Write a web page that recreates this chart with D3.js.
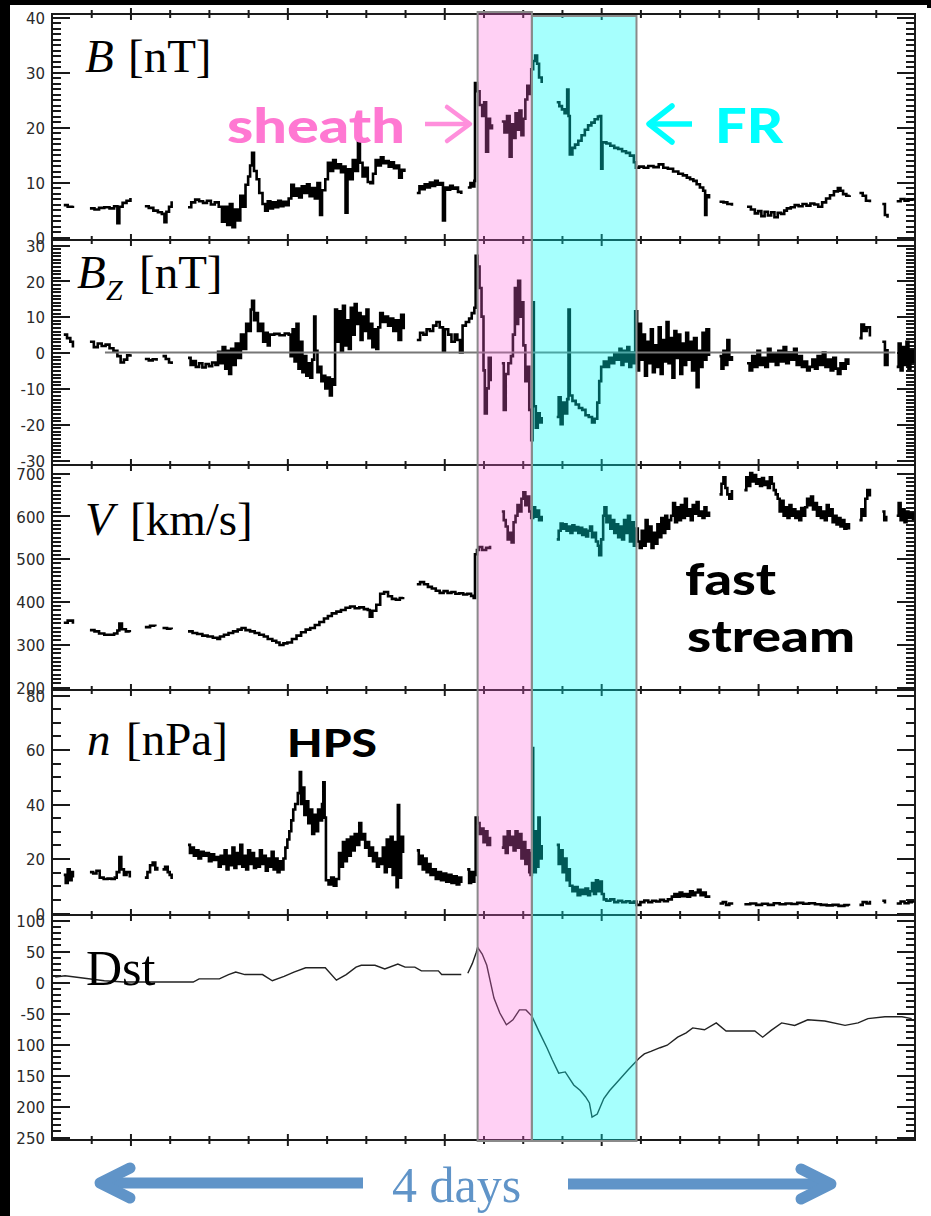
<!DOCTYPE html>
<html>
<head>
<meta charset="utf-8">
<script src="https://cdn.jsdelivr.net/npm/d3@7"></script>
<style>
  body { margin: 0; background: #fff; }
  svg { display: block; }
</style>
</head>
<body>
<script>
// hours from the left edge of the plot
const xMajorHours = [12, 36, 60, 84, 108];
const xMinorHours = [6, 18, 24, 30, 42, 48, 54, 66, 72, 78, 90, 96, 102, 114, 120, 126];

const sheath = [65.1, 73.4];
const fluxRope = [73.4, 89.4];

// [hour, value], null = data gap
const bField = [
  [1.8,5.8],[2.4,5.5],[3.2,5.7],null,
  [5.8,5.2],[6.5,5.0],[7.2,5.3],[8.0,5.4],[8.8,5.2],[9.5,5.6],[10.0,2.5],[10.3,5.5],[10.8,6.2],[11.4,6.6],[12.0,7.1],null,
  [14.2,5.6],[14.8,5.3],[15.5,4.8],[16.2,4.5],[16.8,4.2],[17.2,2.7],[17.5,4.6],[17.9,5.5],[18.3,6.5],null,
  [20.8,5.4],[21.3,6.3],[21.9,6.8],[22.5,6.5],[23.1,6.2],[23.7,6.6],[24.3,5.9],[24.9,6.3],[25.5,5.5],
  [26.0,2.8],[26.4,5.5],[26.8,2.2],[27.2,6.0],[27.6,1.8],[28.0,5.0],[28.4,3.0],
  [28.8,7.5],[29.2,5.5],[29.6,9.5],[30.0,11.0],[30.3,13.0],[30.6,15.3],[30.9,12.0],
  [31.3,10.5],[31.7,8.0],[32.2,6.0],[32.6,4.8],
  [33.0,6.5],[33.4,5.2],[33.8,6.3],[34.2,5.4],[34.6,6.6],[35.0,5.6],[35.4,6.4],[35.8,5.8],[36.2,7.0],
  [36.6,9.5],[37.0,7.5],[37.4,8.8],[37.8,7.2],[38.2,9.2],[38.6,8.0],[39.0,9.6],[39.4,7.4],[39.8,8.9],[40.2,7.0],[40.6,9.8],[41.0,4.0],[41.3,8.5],
  [41.8,10.5],[42.2,13.5],[42.6,12.0],[43.0,14.0],[43.4,12.5],[43.8,13.2],[44.2,11.8],[44.6,12.8],[44.9,4.4],[45.2,12.3],[45.6,10.5],
  [46.0,14.0],[46.4,12.0],[46.8,17.2],[47.1,13.5],[47.5,11.0],[47.9,12.6],[48.3,10.0],[48.7,9.8],[49.1,11.5],[49.5,14.0],[49.9,13.0],
  [50.3,14.5],[50.7,13.4],[51.1,13.8],[51.5,12.8],[51.9,13.6],[52.3,12.5],[52.7,13.0],[53.1,10.8],[53.5,12.2],[53.9,11.8],null,
  [55.8,8.0],[56.2,9.2],[56.6,8.7],[57.0,9.6],[57.4,9.0],[57.8,9.9],[58.2,9.3],[58.6,10.2],[59.0,9.5],[59.4,9.8],[59.8,3.0],[60.1,9.0],
  [60.5,8.6],[60.9,9.3],[61.3,8.8],[61.7,9.0],[62.1,8.2],[62.6,7.8],null,
  [63.6,9.0],[64.0,9.8],[64.4,9.2],[64.6,10.2],[64.7,28.0],
  [65.0,26.5],[65.4,24.0],[65.8,22.0],[66.1,24.5],[66.4,15.5],[66.7,21.5],[67.0,19.8],[67.3,20.5],null,
  [68.8,21.0],[69.2,19.0],[69.6,22.0],[70.0,14.6],[70.3,20.5],[70.6,18.0],[70.9,22.5],[71.2,19.5],[71.5,23.0],[71.8,18.5],[72.1,21.5],
  [72.4,25.0],[72.7,27.5],[73.0,26.0],[73.3,30.5],[73.6,32.0],[73.9,33.0],[74.2,31.5],[74.5,29.0],[74.9,28.0],null,
  [77.2,24.5],[77.6,23.8],[78.0,23.2],[78.4,22.5],[78.8,26.8],[79.0,22.0],[79.2,15.0],
  [79.6,16.2],[80.0,16.8],[80.5,17.5],[81.0,18.5],[81.5,19.5],[82.0,20.3],[82.5,20.8],[83.0,21.4],[83.5,21.9],[83.8,22.0],
  [84.0,12.4],[84.2,17.2],[84.8,17.0],[85.4,16.6],[86.0,16.2],[86.6,16.0],[87.2,15.6],[87.8,15.3],[88.4,14.8],[89.0,13.6],[89.3,12.6],
  [89.8,12.8],[90.5,12.6],[91.2,12.9],[92.0,12.7],[92.8,13.2],[93.5,12.6],[94.2,12.4],[95.0,11.9],[95.8,11.5],[96.5,11.2],[97.1,10.8],
  [97.6,10.5],[98.1,10.2],[98.6,9.6],[99.1,9.0],[99.6,8.4],[99.9,4.0],[100.1,7.6],[100.5,7.0],null,
  [102.1,6.4],[102.7,6.3],[103.3,6.0],[104.0,5.7],null,
  [106.3,5.5],[106.9,5.0],[107.5,4.3],[108.0,4.7],[108.5,3.8],[109.0,4.6],[109.5,3.9],[110.0,4.5],[110.5,3.6],[111.0,4.4],[111.5,4.2],[112.0,4.8],[112.4,5.2],
  [113.0,5.4],[113.6,5.8],[114.2,5.6],[114.8,6.0],[115.4,5.7],[116.0,6.1],[116.6,5.9],[117.2,5.5],[117.8,6.3],
  [118.4,7.0],[119.0,7.6],[119.6,8.3],[120.2,8.9],[120.6,8.4],[121.0,7.8],[121.5,7.5],[122.0,7.6],null,
  [123.5,8.0],[124.0,7.5],[124.5,6.6],[125.1,6.3],null,
  [127.0,6.0],[127.4,4.0],[127.8,3.5],null,
  [129.2,6.5],[129.8,6.9],[130.4,6.6],[131.0,6.8],[131.7,6.6]
];

const bzField = [
  [1.8,5.0],[2.3,4.0],[2.8,3.0],[3.2,1.4],null,
  [5.8,3.0],[6.4,1.5],[7.0,2.5],[7.6,1.8],[8.2,2.2],[8.8,1.2],[9.4,0.5],[10.0,-1.0],[10.5,-2.8],[11.0,-2.0],[11.5,-0.8],[12.0,-0.5],null,
  [14.2,-1.8],[14.8,-2.2],[15.4,-1.9],[16.0,-2.3],null,
  [16.9,-1.0],[17.4,-1.8],[17.9,-2.8],[18.3,-3.2],null,
  [20.8,-1.5],[21.2,-3.5],[21.6,-2.4],[22.0,-4.0],[22.5,-3.0],[23.0,-4.2],[23.5,-3.2],[24.0,-3.8],[24.5,-2.8],[25.0,-3.5],
  [25.4,0.2],[25.8,-3.0],[26.1,1.5],[26.5,-4.5],[26.8,0.5],[27.1,-6.0],[27.4,1.0],[27.7,-3.5],
  [28.1,2.5],[28.5,-1.5],[28.9,5.0],[29.3,1.0],[29.7,8.0],[30.1,6.0],[30.4,12.0],[30.6,14.4],[30.9,9.0],
  [31.2,11.0],[31.5,6.0],[31.9,8.0],[32.3,3.0],[32.7,5.5],
  [33.0,2.0],[33.3,5.0],[34.0,5.2],[34.8,4.8],[35.6,5.3],[36.2,5.0],
  [36.5,-1.0],[36.8,6.5],[37.1,-2.5],[37.4,8.0],[37.7,-4.5],[38.0,3.0],[38.3,-5.5],
  [38.6,-1.0],[38.9,-6.5],[39.2,-3.0],[39.5,-7.0],[39.8,-2.0],[40.1,10.0],[40.3,0.5],[40.6,-5.5],
  [40.9,-4.0],[41.2,-8.0],[41.5,-6.5],[41.8,-10.0],[42.1,-7.0],[42.5,-12.0],[42.8,-7.5],[43.1,-9.0],
  [43.3,12.0],[43.6,3.0],[43.9,11.5],[44.2,0.5],[44.5,13.0],[44.8,2.0],[45.1,9.0],[45.4,1.0],
  [45.7,12.5],[46.0,5.0],[46.3,13.5],[46.6,8.0],[46.9,11.0],[47.2,3.5],[47.5,10.0],[47.8,6.0],[48.1,12.0],[48.4,4.0],
  [48.7,8.0],[49.0,1.5],[49.3,6.5],[49.6,1.0],[49.9,7.0],
  [50.2,11.0],[50.6,8.5],[51.0,10.0],[51.4,7.5],[51.8,9.5],[52.2,6.0],[52.6,9.0],[53.0,3.5],[53.4,10.5],[53.8,6.5],null,
  [55.8,3.5],[56.3,5.5],[56.8,5.0],[57.3,6.5],[57.8,6.0],[58.3,7.5],[58.8,8.5],[59.3,7.0],[59.8,0.5],[60.1,6.5],[60.6,5.0],[61.1,3.0],
  [61.6,5.0],[62.0,3.5],[62.4,0.0],[62.8,7.5],[63.3,8.5],[63.8,9.5],[64.2,11.0],[64.6,12.5],[64.8,27.0],
  [65.1,24.0],[65.4,18.0],[65.7,10.0],[66.0,-5.0],[66.2,-17.0],[66.5,-10.0],[66.8,-1.5],[67.1,-8.0],null,
  [68.8,-3.0],[69.1,-16.0],[69.4,-6.0],[69.8,-3.0],[70.2,-1.0],[70.5,5.0],[70.8,18.0],[71.0,8.0],[71.3,20.0],[71.6,10.0],[71.9,14.0],
  [72.1,2.0],[72.4,-8.0],[72.7,-4.0],[73.0,-16.0],[73.3,-24.5],[73.5,14.0],[73.7,-15.0],[74.0,-21.0],[74.3,-17.0],[74.6,-19.5],[74.9,-18.0],null,
  [77.2,-18.0],[77.5,-12.5],[77.8,-20.0],[78.1,-14.0],[78.4,-17.0],[78.8,-13.0],[79.0,12.0],[79.2,-12.0],
  [79.6,-13.5],[80.1,-14.5],[80.6,-15.5],[81.1,-16.0],[81.6,-17.5],[82.1,-18.0],[82.6,-19.5],[83.0,-18.5],
  [83.4,-14.0],[83.7,-8.0],[84.0,-4.0],[84.4,-2.5],[84.8,-4.0],[85.2,-1.5],[85.6,-3.0],[86.0,-0.5],[86.4,-2.0],[86.8,1.0],
  [87.1,-3.5],[87.4,0.5],[87.7,-2.5],[88.0,1.5],[88.3,-4.0],[88.6,0.0],[88.9,-3.0],[89.2,11.5],
  [89.5,-5.0],[89.8,8.0],[90.1,-2.0],[90.4,5.0],[90.7,-6.5],[91.0,3.0],[91.3,-3.0],[91.6,6.5],[91.9,-5.5],[92.2,2.0],[92.5,-4.0],
  [92.8,7.0],[93.1,-6.0],[93.4,3.5],[93.7,-2.5],[94.0,8.5],[94.3,-3.0],[94.6,4.0],[94.9,-7.0],[95.2,6.0],[95.5,-1.5],[95.8,5.0],
  [96.1,-6.0],[96.4,2.5],[96.7,-3.5],[97.0,5.5],[97.3,-2.0],[97.6,3.0],[97.9,-5.0],[98.2,4.0],[98.6,-9.7],[98.9,0.5],[99.2,-4.0],
  [99.5,5.5],[99.8,-2.0],[100.1,6.5],[100.5,-1.0],null,
  [102.1,-1.0],[102.4,-4.5],[102.7,0.5],[103.0,-3.5],[103.3,3.5],[103.6,-2.0],[104.0,-1.0],null,
  [106.3,-3.0],[106.7,-5.0],[107.1,-1.0],[107.5,-4.0],[107.9,0.5],[108.3,-3.5],[108.7,-1.5],[109.1,-4.0],[109.5,1.0],[109.9,-2.5],
  [110.3,-0.5],[110.7,-3.5],[111.1,0.5],[111.5,-2.5],[111.9,1.5],[112.3,-3.0],[112.7,0.0],[113.1,-2.0],[113.5,1.0],[113.9,-3.5],
  [114.3,-1.0],[114.7,-4.0],[115.1,-2.5],[115.5,-5.0],[115.9,-4.0],[116.3,-2.0],[116.7,-4.5],[117.1,-1.0],[117.5,-3.5],[117.9,0.0],
  [118.3,-4.0],[118.7,-2.0],[119.1,-5.0],[119.5,-1.5],[119.9,-4.5],[120.2,-6.0],[120.6,-3.0],[121.0,-4.5],[121.4,-2.0],[121.8,-3.5],null,
  [123.5,4.0],[123.8,7.8],[124.2,6.0],[124.6,7.0],[125.1,4.5],null,
  [127.0,3.0],[127.4,-3.5],[127.8,1.0],null,
  [129.2,-4.0],[129.5,2.5],[129.8,-5.0],[130.1,1.5],[130.4,-3.5],[130.7,3.0],[131.0,-4.5],[131.3,0.5],[131.7,-3.0]
];

const speed = [
  [1.8,350],[2.4,355],[3.2,348],null,
  [5.8,333],[6.5,330],[7.2,325],[8.0,322],[8.8,322],[9.5,325],[10.0,332],[10.3,348],[10.7,335],[11.3,330],[11.9,328],null,
  [14.2,340],[15.0,343],[15.8,342],null,
  [16.9,338],[17.6,336],[18.3,335],null,
  [20.8,330],[21.5,326],[22.2,324],[23.0,320],[23.8,318],[24.6,315],[25.3,312],[25.7,318],
  [26.3,322],[27.0,326],[27.7,330],[28.4,334],[29.0,338],[29.6,333],[30.3,330],
  [31.0,326],[31.7,322],[32.4,318],[33.0,312],[33.7,308],[34.3,304],[34.8,298],[35.4,302],
  [36.0,304],[36.7,312],[37.4,320],[38.1,328],[38.8,334],[39.5,338],[40.2,345],[40.9,352],[41.6,360],[42.2,366],
  [42.8,372],[43.5,376],[44.2,380],[44.9,385],[45.6,388],[46.3,384],[47.0,386],[47.7,382],[48.3,380],[48.6,364],[49.0,378],
  [49.6,392],[50.2,418],[50.8,422],[51.4,412],[52.0,406],[52.6,404],[53.2,408],[53.7,410],null,
  [55.8,440],[56.3,445],[56.9,440],[57.5,434],[58.1,430],
  [58.7,425],[59.3,420],[59.9,424],[60.5,420],[61.1,422],[61.7,418],[62.3,419],[62.9,416],[63.5,418],[64.1,413],[64.5,408],
  [64.7,510],[65.0,520],[65.3,527],[65.8,520],[66.4,525],[67.0,530],null,
  [68.8,610],[69.1,590],[69.4,575],[69.7,545],[70.0,560],[70.3,538],[70.6,585],
  [70.9,600],[71.2,625],[71.5,610],[71.8,640],[72.1,655],[72.4,625],[72.7,645],[73.0,610],[73.3,595],
  [73.6,620],[73.9,598],[74.2,612],[74.5,590],[74.9,600],null,
  [77.2,545],[77.5,565],[77.8,582],[78.1,570],[78.4,580],[78.7,565],[79.0,575],[79.3,560],[79.6,578],[79.9,566],[80.2,574],
  [80.5,560],[80.8,572],[81.1,555],[81.4,568],[81.7,552],[82.0,565],[82.3,575],[82.6,550],[82.9,560],[83.2,540],[83.5,530],
  [83.7,508],[84.0,545],[84.3,600],
  [84.5,620],[84.8,585],[85.1,600],[85.4,570],[85.7,590],[86.0,560],[86.3,580],[86.6,550],[86.9,575],[87.2,545],[87.5,590],
  [87.8,560],[88.1,600],[88.4,540],[88.7,585],[89.0,530],[89.3,570],
  [89.6,540],[89.9,525],[90.2,565],[90.5,530],[90.8,590],[91.1,540],[91.4,575],[91.7,525],[92.0,560],[92.3,535],[92.6,580],
  [92.9,550],[93.2,595],[93.5,560],[93.8,600],[94.1,570],[94.4,590],
  [94.7,600],[95.0,630],[95.3,585],[95.6,620],[95.9,590],[96.2,625],[96.5,595],[96.8,640],[97.1,600],[97.4,615],[97.7,590],
  [98.0,625],[98.3,605],[98.6,632],[98.9,600],[99.2,610],[99.5,595],[99.8,620],[100.1,600],[100.5,610],null,
  [102.1,650],[102.4,675],[102.7,690],[103.0,665],[103.3,650],[103.6,640],[104.0,660],null,
  [105.9,660],[106.2,690],[106.5,670],[106.8,700],[107.1,680],[107.4,695],[107.7,675],[108.0,685],[108.3,670],[108.6,688],
  [108.9,672],[109.2,680],[109.5,665],[109.8,690],[110.1,675],[110.4,660],[110.7,650],
  [111.0,640],[111.3,610],[111.6,635],[111.9,600],[112.2,620],[112.5,595],[112.8,625],[113.1,600],[113.4,615],[113.7,595],
  [114.0,610],[114.3,590],[114.6,618],[114.9,600],[115.2,620],
  [115.5,640],[115.8,625],[116.1,645],[116.4,615],[116.7,630],[117.0,600],[117.3,620],[117.6,595],[117.9,610],[118.2,590],
  [118.5,625],[118.8,600],[119.1,615],[119.4,585],[119.7,600],[120.0,580],[120.3,595],[120.6,575],[120.9,590],[121.2,570],
  [121.5,580],[121.9,568],null,
  [123.5,590],[123.8,615],[124.1,600],[124.4,640],[124.7,660],[125.1,645],null,
  [127.0,610],[127.3,590],[127.6,600],null,
  [129.2,600],[129.5,630],[129.8,590],[130.1,615],[130.4,585],[130.7,610],[131.0,595],[131.3,605],[131.7,590]
];

const density = [
  [1.8,14],[2.1,11],[2.4,16],[2.7,12],[3.0,15],[3.2,13],null,
  [5.8,15],[6.3,14.5],[6.8,15.5],[7.3,13],[7.9,12.5],[8.5,12.6],[9.1,12.5],[9.6,13],[9.9,15],
  [10.3,20.5],[10.6,16],[11.0,14],[11.4,15],[11.9,13],null,
  [14.2,13],[14.6,15],[15.0,17.5],[15.4,18.5],[15.8,16],[16.1,17],null,
  [16.9,16],[17.3,17],[17.7,15],[18.0,14],[18.3,12.5],null,
  [20.8,25],[21.1,22],[21.4,24],[21.7,21],[22.0,23],[22.4,20],[22.8,22.5],[23.2,21],[23.6,22],[24.0,19],[24.4,21.5],[24.8,19.5],[25.2,20.5],
  [25.5,17],[25.8,21],[26.1,18],[26.4,23],[26.7,16],[27.0,21],[27.3,17.5],[27.6,24],[27.9,16.5],[28.2,22],[28.5,18],[28.8,25],
  [29.1,17],[29.4,21],[29.7,16],[30.0,23],[30.3,18],[30.6,22],[30.9,16.5],[31.2,20],[31.5,17],[31.8,23],[32.1,18],[32.4,21],
  [32.7,15.5],[33.0,20],[33.3,17],[33.6,22.5],[33.9,16],[34.2,20],[34.5,15],[34.8,19],[35.1,16],[35.4,20],
  [35.7,24],[36.0,27],[36.3,30],[36.6,34],[36.9,38],[37.2,40],[37.6,44],[37.9,51.7],[38.1,40],[38.3,46],
  [38.6,36],[38.9,41],[39.2,33],[39.5,38],[39.8,29],[40.1,36],[40.4,30],[40.7,38],[41.0,34],[41.3,40],[41.5,48],[41.7,35],
  [41.9,12],[42.3,10.5],[42.7,13],[43.1,10],[43.5,12.5],
  [43.9,22],[44.2,17],[44.5,26],[44.8,19],[45.1,27],[45.4,21],[45.7,28],[46.0,23],[46.3,29],[46.6,25],[47.0,33],[47.3,27],
  [47.6,29],[47.9,24],[48.2,26],[48.5,21],[48.8,24],[49.1,19],[49.4,22],[49.7,17],[50.0,20],[50.3,18],
  [50.6,24],[50.9,15],[51.2,27],[51.5,17],[51.8,28],[52.1,14],[52.4,26],[52.7,9.5],[52.9,39.6],[53.1,13],[53.4,28],[53.7,22],null,
  [55.8,23],[56.1,18],[56.4,21],[56.7,16],[57.0,20],[57.3,15],[57.6,18],
  [57.9,14],[58.3,16],[58.7,12.5],[59.1,15],[59.5,12],[59.9,14.5],[60.3,11.5],[60.7,14],[61.1,11],[61.5,13.5],[61.9,10.5],
  [62.3,13],[62.6,11],null,
  [63.5,16],[63.8,11],[64.1,15],[64.4,11.5],[64.6,14],[64.8,35],
  [65.1,33],[65.4,29],[65.7,31],[66.0,26],[66.3,30],[66.6,25],[67.0,28],null,
  [68.8,24],[69.1,28],[69.4,22],[69.7,30],[70.0,25],[70.3,28],[70.6,23],
  [70.9,30],[71.2,24],[71.5,29],[71.8,20],[72.1,26],[72.4,18],[72.7,23],[73.0,15],[73.2,14],
  [73.4,22],[73.5,60.5],[73.6,22],[73.8,15],[74.0,30],[74.2,17],[74.4,35],[74.6,20],[74.9,25],null,
  [77.2,25],[77.5,18],[77.8,23],[78.1,15],[78.4,20],[78.7,12],[79.0,16],[79.2,10],
  [79.6,8],[80.0,9.5],[80.4,6.5],[80.8,8.5],[81.2,7],[81.6,9],[82.0,6.5],[82.3,8],
  [82.6,11],[82.9,7],[83.2,12],[83.5,8],[83.8,11.5],[84.1,7],[84.4,5],
  [84.8,4.5],[85.4,5],[86.0,4],[86.6,4.5],[87.2,4],[87.8,4.3],[88.4,3.8],[89.0,4.2],[89.4,3],
  [90.0,4],[90.6,4.6],[91.2,4],[91.8,4.5],[92.4,4.2],[93.0,4.8],[93.6,4.3],[94.2,5],
  [94.8,6],[95.2,7],[95.6,6],[96.0,7.5],[96.4,6.2],[96.8,7],[97.2,6],[97.6,8],[98.0,6.5],[98.4,7.5],[98.8,8.5],[99.2,6.5],
  [99.6,7.5],[100.0,6],[100.5,5.5],null,
  [102.1,3.5],[102.6,4],[103.1,3],[103.6,3.5],[104.0,3],null,
  [105.9,3.2],[106.8,3.5],[107.7,3],[108.6,3.4],[109.5,3],[110.4,3.6],[111.3,3.2],[112.2,3.5],[113.1,3.3],[114.0,3.7],
  [114.9,3.4],[115.8,3.6],[116.7,3.2],[117.6,3],[118.5,2.8],[119.4,3],[120.3,2.6],[121.2,2.9],[121.9,2.7],null,
  [123.5,3],[124.0,4],[124.6,3.5],[125.1,4.5],null,
  [127.0,4.5],[127.4,3.5],null,
  [129.2,3.5],[129.8,4.2],[130.4,3.6],[131.0,4],[131.7,3.8]
];

const dst = [
  [0.5,8],[2,10],[5,6],[8,2],[11,0],[16.5,0],[21.6,0],[22.5,5],[25.6,5],[27,12],[28.1,16],[29.5,12],[32.2,12],[33.7,2],
  [35.5,9],[37,16],[38.8,23],[41.8,23],[43.5,3],[45,12],[46.5,24],[47.3,27],[49.4,27],[50.9,21],[52.9,29],[54,24],[55.5,24],
  [56.5,18],[59.1,18],[59.6,12],[62.6,12],null,
  [63.6,14],[64.3,30],[64.9,48],[65.1,56],[65.8,45],[66.5,27],[67.6,-26],[68.5,-50],[69.5,-69],[70.5,-61],[71.5,-45],[72.5,-45],
  [73.4,-55],[74.5,-80],[75.7,-106],[76.5,-125],[77.5,-147],[78.5,-145],[79.8,-166],[80.8,-175],[81.6,-185],[82.2,-195],
  [82.6,-218],[83.4,-213],[84.4,-188],[85.3,-175],[86.5,-161],[88.1,-142],[89.8,-123],[90.6,-116],[91.6,-112],[93,-106],
  [94.1,-102],[95.7,-89],[97,-82],[98,-74],[99.8,-77],[101.6,-66],[103.1,-79],[107.5,-79],[108.7,-89],[110,-78],[111.6,-66],
  [113.6,-70],[115.6,-61],[118.2,-63],[121.3,-70],[123.3,-66],[124.8,-59],[127.4,-56],[130,-56],[131.5,-59]
];

const dstTickValues = [100, 50, 0, -50, -100, -150, -200, -250];
const dstTickLabels = ["100", "50", "0", "-50", "100", "150", "200", "250"];

const W = 931, H = 1216;
const X0 = 52, X1 = 915;

const svg = d3.select("body").append("svg").attr("width", W).attr("height", H);
svg.append("rect").attr("width", W).attr("height", H).attr("fill", "#fff");

const x = d3.scaleLinear().domain([0, 132]).range([X0, X1]);

const panels = [
  { data: bField, domain: [0, 40], range: [237, 17], top: 14, bottom: 240, major: 10, minor: 1 },
  { data: bzField, domain: [-30, 30], range: [460, 245], top: 240, bottom: 465, major: 10, minor: 1 },
  { data: speed, domain: [200, 700], range: [687, 473], top: 465, bottom: 690, major: 100, minor: 10 },
  { data: density, domain: [0, 80], range: [913, 695], top: 690, bottom: 915, major: 20, minor: 5 },
  { data: dst, domain: [-250, 100], range: [1137, 920], top: 915, bottom: 1140, major: 50, minor: 10, thin: true }
];

const ink = "#1a1a1a";

panels.forEach((p, i) => {
  p.y = d3.scaleLinear().domain(p.domain).range(p.range);
  const majors = d3.range(p.domain[0], p.domain[1] + 1e-6, p.major);
  const minors = d3.range(p.domain[0], p.domain[1] + 1e-6, p.minor)
    .filter(v => !majors.some(m => Math.abs(m - v) < 1e-6));
  const fmt = i === 4 ? d => dstTickLabels[dstTickValues.indexOf(d)] : d => d;

  const left = svg.append("g").attr("transform", `translate(${X0},0)`);
  left.append("g").call(d3.axisLeft(p.y).tickValues(minors).tickSize(-9).tickFormat(""));
  left.append("g").call(d3.axisLeft(p.y).tickValues(majors).tickSize(-18).tickPadding(7).tickFormat(fmt));
  const right = svg.append("g").attr("transform", `translate(${X1},0)`);
  right.append("g").call(d3.axisLeft(p.y).tickValues(minors).tickSize(9).tickFormat(""));
  right.append("g").call(d3.axisLeft(p.y).tickValues(majors).tickSize(18).tickFormat(""));

  svg.selectAll(".domain").remove();
  left.selectAll("text")
    .attr("font-family", "DejaVu Sans")
    .attr("font-size", 15)
    .attr("fill", "#2a2a2a")
    .attr("dy", "0.42em");
});

svg.selectAll(".tick line")
  .attr("stroke", ink).attr("stroke-width", 2)
  .attr("shape-rendering", "crispEdges");

// time ticks on every panel boundary, crossing the line
[14, 240, 465, 690, 915, 1140].forEach(yb => {
  const g1 = svg.append("g").attr("transform", `translate(0,${yb - 4})`)
    .call(d3.axisBottom(x).tickValues(xMinorHours).tickSize(8).tickFormat(""));
  const g2 = svg.append("g").attr("transform", `translate(0,${yb - 6})`)
    .call(d3.axisBottom(x).tickValues(xMajorHours).tickSize(12).tickFormat(""));
  [g1, g2].forEach(g => {
    g.select(".domain").remove();
    g.selectAll("line").attr("stroke", ink).attr("stroke-width", 2);
  });
});

// panel frames
panels.forEach(p => {
  svg.append("rect")
    .attr("x", X0).attr("y", p.top)
    .attr("width", X1 - X0).attr("height", p.bottom - p.top)
    .attr("fill", "none").attr("stroke", ink).attr("stroke-width", 2);
});

// data traces: stepped like the original plot, Dst as a thin polyline
panels.forEach(p => {
  const line = d3.line()
    .defined(d => d)
    .curve(p.thin ? d3.curveLinear : d3.curveStepAfter)
    .x(d => x(d[0]))
    .y(d => p.y(d[1]));
  svg.append("path")
    .attr("d", line(p.data))
    .attr("fill", "none")
    .attr("stroke", p.thin ? "#222" : "#000")
    .attr("stroke-width", p.thin ? 1.4 : 2.6)
    .attr("stroke-linejoin", "miter");
});

// Bz zero line
const yBz = panels[1].y;
svg.append("line")
  .attr("x1", x(8.1)).attr("x2", x(129))
  .attr("y1", yBz(0)).attr("y2", yBz(0))
  .attr("stroke", "#777").attr("stroke-width", 2);

// sheath and flux rope intervals
const boxes = [
  { span: sheath, top: 12, fill: "rgb(255,100,220)", op: 0.3 },
  { span: fluxRope, top: 16, fill: "rgb(0,255,250)", op: 0.35 }
];
boxes.forEach(b => {
  svg.append("rect")
    .attr("x", x(b.span[0])).attr("y", b.top)
    .attr("width", x(b.span[1]) - x(b.span[0])).attr("height", 1141 - b.top)
    .attr("fill", b.fill).attr("fill-opacity", b.op)
    .attr("stroke", "#8a8a8a").attr("stroke-width", 2);
});

// panel titles
const serif = "'Liberation Serif', 'Times New Roman', serif";
function title(parts) {
  const t = svg.append("text").attr("font-family", serif).attr("fill", "#000");
  parts.forEach(p => {
    t.append("tspan")
      .attr("x", p.x).attr("y", p.y)
      .attr("font-size", p.size || 47)
      .attr("font-style", p.italic ? "italic" : "normal")
      .text(p.text);
  });
}
title([{ text: "B", x: 85, y: 72, italic: true }, { text: "[nT]", x: 128, y: 72 }]);
title([{ text: "B", x: 77, y: 288, italic: true }, { text: "Z", x: 106, y: 300, italic: true, size: 30 }, { text: "[nT]", x: 139, y: 288 }]);
title([{ text: "V", x: 85, y: 535, italic: true }, { text: "[km/s]", x: 130, y: 535 }]);
title([{ text: "n", x: 87, y: 755, italic: true }, { text: "[nPa]", x: 126, y: 755 }]);
title([{ text: "Dst", x: 86, y: 985, size: 50 }]);

// annotations
const bold = "Lato, 'Open Sans', sans-serif";
function note(text, xPos, yPos, size, len, color) {
  svg.append("text")
    .attr("x", xPos).attr("y", yPos)
    .attr("font-family", bold).attr("font-weight", 900)
    .attr("font-size", size)
    .attr("textLength", len).attr("lengthAdjust", "spacingAndGlyphs")
    .attr("fill", color)
    .text(text);
}
note("sheath", 227, 143, 48, 178, "#ff78d2");
note("FR", 715, 143, 48, 68, "#00ffff");
note("fast", 685, 595, 44, 91, "#000");
note("stream", 687, 652, 44, 168, "#000");
note("HPS", 287, 757, 38, 90, "#000");

function arrow(shaft, head, color, width) {
  svg.append("path")
    .attr("d", d3.line()(shaft))
    .attr("fill", "none").attr("stroke", color).attr("stroke-width", width);
  svg.append("path")
    .attr("d", d3.line()(head))
    .attr("fill", "none").attr("stroke", color).attr("stroke-width", width)
    .attr("stroke-linecap", "round").attr("stroke-linejoin", "round");
}
arrow([[425, 124], [468, 124]], [[447, 107], [470, 124], [447, 141]], "#ff8fdc", 4.5);
arrow([[651, 124], [692, 124]], [[672, 106], [649, 124], [672, 142]], "#00ffff", 5.5);

const blue = "#6094c8";
arrow([[363, 1183], [104, 1183]], [[130, 1168], [100, 1183], [130, 1198]], blue, 11);
arrow([[568, 1184], [826, 1184]], [[801, 1169], [831, 1184], [801, 1199]], blue, 11);
svg.append("text")
  .attr("x", 392).attr("y", 1202)
  .attr("font-family", serif).attr("font-size", 50)
  .attr("fill", blue)
  .text("4 days");

// black scan border
svg.append("rect").attr("x", 0).attr("y", 0).attr("width", 10).attr("height", H).attr("fill", "#000");
svg.append("rect").attr("x", 0).attr("y", 0).attr("width", W).attr("height", 5).attr("fill", "#000");
svg.append("rect").attr("x", 927).attr("y", 0).attr("width", 4).attr("height", 8).attr("fill", "#000");
</script>
</body>
</html>
